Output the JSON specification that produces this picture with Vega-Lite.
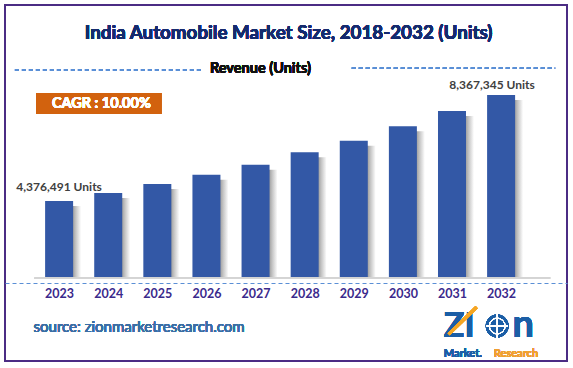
{
  "$schema": "https://vega.github.io/schema/vega-lite/v6.json",
  "width": 562,
  "height": 356,
  "autosize": "none",
  "padding": {"left": 5, "top": 5, "right": 6, "bottom": 7},
  "background": "white",
  "config": {
    "view": {"stroke": "#4B2C84", "strokeWidth": 2},
    "font": "Lato",
    "text": {"font": "Lato"}
  },
  "data": {
    "values": [
      {"year": 2023, "value": 4376491, "label": "4,376,491 Units"},
      {"year": 2024, "value": 4678000},
      {"year": 2025, "value": 5016000},
      {"year": 2026, "value": 5367000},
      {"year": 2027, "value": 5743000},
      {"year": 2028, "value": 6210000},
      {"year": 2029, "value": 6647000},
      {"year": 2030, "value": 7189000},
      {"year": 2031, "value": 7765000},
      {"year": 2032, "value": 8367345, "label": "8,367,345 Units"}
    ]
  },
  "layer": [
    {
      "mark": {"type": "bar", "size": 10, "xOffset": 17, "yOffset": 5,
        "color": {"gradient": "linear", "x1": 0, "x2": 1, "y1": 0, "y2": 0,
          "stops": [{"offset": 0, "color": "#8a8a8a"}, {"offset": 0.5, "color": "#c8c8c8"}, {"offset": 1, "color": "#ffffff"}]}},
      "encoding": {
        "x": {"field": "year", "type": "quantitative", "scale": {"domain": [2022, 2033.24], "nice": false, "zero": false},
          "axis": {"values": [2023, 2024, 2025, 2026, 2027, 2028, 2029, 2030, 2031, 2032], "format": "d", "title": null,
            "offset": -78, "grid": false, "ticks": false, "domainColor": "#5B8FD6", "domainDash": [4, 3], "domainWidth": 1.2,
            "labelColor": "#3B2A8C", "labelFont": "Lato", "labelFontWeight": "bold", "labelFontSize": 12.5, "labelPadding": 4}},
        "y": {"field": "value", "type": "quantitative", "scale": {"domain": [-1647000, 11756000], "nice": false, "zero": false}, "axis": null},
        "y2": {"datum": 1477000}
      }
    },
    {
      "mark": {"type": "bar", "size": 28, "color": "#3358A6"},
      "encoding": {
        "x": {"field": "year", "type": "quantitative", "scale": {"domain": [2022, 2033.24], "nice": false, "zero": false}},
        "y": {"field": "value", "type": "quantitative", "scale": {"domain": [-1647000, 11756000], "nice": false, "zero": false}, "axis": null},
        "y2": {"datum": 1477000}
      }
    },
    {
      "mark": {"type": "rule", "color": "#D4D4D4", "strokeWidth": 1},
      "encoding": {
        "x": {"datum": 2022.5, "type": "quantitative", "scale": {"domain": [2022, 2033.24], "nice": false, "zero": false}},
        "x2": {"datum": 2033.0},
        "y": {"datum": 1477000, "type": "quantitative", "scale": {"domain": [-1647000, 11756000], "nice": false, "zero": false}, "axis": null}
      }
    },
    {
      "transform": [{"filter": "datum.year == 2023"}],
      "mark": {"type": "text", "font": "Lato", "fontWeight": "bold", "fontSize": 12, "color": "#404040", "baseline": "middle", "dy": -14},
      "encoding": {
        "x": {"field": "year", "type": "quantitative", "scale": {"domain": [2022, 2033.24], "nice": false, "zero": false}},
        "y": {"field": "value", "type": "quantitative", "scale": {"domain": [-1647000, 11756000], "nice": false, "zero": false}, "axis": null},
        "text": {"field": "label"}
      }
    },
    {
      "transform": [{"filter": "datum.year == 2032"}],
      "mark": {"type": "text", "font": "Lato", "fontWeight": "bold", "fontSize": 12, "color": "#404040", "baseline": "middle", "dy": -10, "dx": -9},
      "encoding": {
        "x": {"field": "year", "type": "quantitative", "scale": {"domain": [2022, 2033.24], "nice": false, "zero": false}},
        "y": {"field": "value", "type": "quantitative", "scale": {"domain": [-1647000, 11756000], "nice": false, "zero": false}, "axis": null},
        "text": {"field": "label"}
      }
    },
    {
      "mark": {"type": "text", "font": "Lato", "fontWeight": "bold", "fontSize": 18.8, "color": "#152B6E", "baseline": "middle", "align": "center"},
      "encoding": {
        "x": {"datum": 2027.674, "type": "quantitative", "scale": {"domain": [2022, 2033.24], "nice": false, "zero": false}},
        "y": {"datum": 10690000, "type": "quantitative", "scale": {"domain": [-1647000, 11756000], "nice": false, "zero": false}, "axis": null},
        "text": {"value": "India Automobile Market Size, 2018-2032 (Units)"}
      }
    },
    {
      "mark": {"type": "rule", "color": "#5B8FD6", "strokeWidth": 1.2, "strokeDash": [4, 3]},
      "encoding": {
        "x": {"datum": 2022.1, "type": "quantitative", "scale": {"domain": [2022, 2033.24], "nice": false, "zero": false}},
        "x2": {"datum": 2025.94},
        "y": {"datum": 9308000, "type": "quantitative", "scale": {"domain": [-1647000, 11756000], "nice": false, "zero": false}, "axis": null}
      }
    },
    {
      "mark": {"type": "rule", "color": "#5B8FD6", "strokeWidth": 1.2, "strokeDash": [4, 3]},
      "encoding": {
        "x": {"datum": 2028.96, "type": "quantitative", "scale": {"domain": [2022, 2033.24], "nice": false, "zero": false}},
        "x2": {"datum": 2033.1},
        "y": {"datum": 9380000, "type": "quantitative", "scale": {"domain": [-1647000, 11756000], "nice": false, "zero": false}, "axis": null}
      }
    },
    {
      "mark": {"type": "text", "font": "Lato", "fontWeight": "bold", "fontSize": 14.5, "color": "#111111", "baseline": "middle", "align": "center"},
      "encoding": {
        "x": {"datum": 2027.1, "type": "quantitative", "scale": {"domain": [2022, 2033.24], "nice": false, "zero": false}},
        "y": {"datum": 9346000, "type": "quantitative", "scale": {"domain": [-1647000, 11756000], "nice": false, "zero": false}, "axis": null},
        "text": {"value": "Revenue (Units)"}
      }
    },
    {
      "mark": {"type": "rect", "color": "#D2620E"},
      "encoding": {
        "x": {"datum": 2022.54, "type": "quantitative", "scale": {"domain": [2022, 2033.24], "nice": false, "zero": false}},
        "x2": {"datum": 2025.08},
        "y": {"datum": 8442000, "type": "quantitative", "scale": {"domain": [-1647000, 11756000], "nice": false, "zero": false}, "axis": null},
        "y2": {"datum": 7652000}
      }
    },
    {
      "mark": {"type": "text", "font": "Lato", "fontWeight": "bold", "fontSize": 14.5, "color": "#FFFFFF", "baseline": "middle", "align": "center"},
      "encoding": {
        "x": {"datum": 2023.86, "type": "quantitative", "scale": {"domain": [2022, 2033.24], "nice": false, "zero": false}},
        "y": {"datum": 8047000, "type": "quantitative", "scale": {"domain": [-1647000, 11756000], "nice": false, "zero": false}, "axis": null},
        "text": {"value": "CAGR : 10.00%"}
      }
    },
    {
      "mark": {"type": "text", "font": "Lato", "fontWeight": "normal", "fontSize": 15, "color": "#3A6EA5", "baseline": "middle", "align": "left"},
      "encoding": {
        "x": {"datum": 2022.48, "type": "quantitative", "scale": {"domain": [2022, 2033.24], "nice": false, "zero": false}},
        "y": {"datum": -356000, "type": "quantitative", "scale": {"domain": [-1647000, 11756000], "nice": false, "zero": false}, "axis": null},
        "text": {"value": "source: zionmarketresearch.com"}
      }
    },
    {
      "mark": {"type": "text", "font": "Lato", "fontWeight": "bold", "fontSize": 34, "color": "#1B5EA6", "baseline": "alphabetic", "align": "left"},
      "encoding": {
        "x": {"datum": 2030.834, "type": "quantitative", "scale": {"domain": [2022, 2033.24], "nice": false, "zero": false}},
        "y": {"datum": -744000, "type": "quantitative", "scale": {"domain": [-1647000, 11756000], "nice": false, "zero": false}, "axis": null},
        "text": {"value": "ZI"}
      }
    },
    {
      "mark": {"type": "point", "shape": "circle", "filled": true, "color": "#1B5EA6", "opacity": 1, "size": 520},
      "encoding": {
        "x": {"datum": 2031.92, "type": "quantitative", "scale": {"domain": [2022, 2033.24], "nice": false, "zero": false}},
        "y": {"datum": -330000, "type": "quantitative", "scale": {"domain": [-1647000, 11756000], "nice": false, "zero": false}, "axis": null}
      }
    },
    {
      "mark": {"type": "point", "shape": "circle", "filled": false, "stroke": "#FFFFFF", "strokeWidth": 1, "opacity": 1, "size": 250},
      "encoding": {
        "x": {"datum": 2031.92, "type": "quantitative", "scale": {"domain": [2022, 2033.24], "nice": false, "zero": false}},
        "y": {"datum": -330000, "type": "quantitative", "scale": {"domain": [-1647000, 11756000], "nice": false, "zero": false}, "axis": null}
      }
    },
    {
      "mark": {"type": "rule", "color": "#FFFFFF", "strokeWidth": 1},
      "encoding": {
        "x": {"datum": 2031.92, "type": "quantitative", "scale": {"domain": [2022, 2033.24], "nice": false, "zero": false}},
        "y": {"datum": -790000, "type": "quantitative", "scale": {"domain": [-1647000, 11756000], "nice": false, "zero": false}, "axis": null},
        "y2": {"datum": 130000}
      }
    },
    {
      "mark": {"type": "rule", "color": "#FFFFFF", "strokeWidth": 1},
      "encoding": {
        "x": {"datum": 2031.7, "type": "quantitative", "scale": {"domain": [2022, 2033.24], "nice": false, "zero": false}},
        "x2": {"datum": 2032.14},
        "y": {"datum": -330000, "type": "quantitative", "scale": {"domain": [-1647000, 11756000], "nice": false, "zero": false}, "axis": null}
      }
    },
    {
      "mark": {"type": "text", "font": "Lato", "fontWeight": "bold", "fontSize": 38, "color": "#1B5EA6", "baseline": "alphabetic", "align": "left"},
      "encoding": {
        "x": {"datum": 2032.234, "type": "quantitative", "scale": {"domain": [2022, 2033.24], "nice": false, "zero": false}},
        "y": {"datum": -744000, "type": "quantitative", "scale": {"domain": [-1647000, 11756000], "nice": false, "zero": false}, "axis": null},
        "text": {"value": "n"}
      }
    },
    {
      "mark": {"type": "rule", "color": "#F5A623", "strokeWidth": 3},
      "encoding": {
        "x": {"datum": 2030.934, "type": "quantitative", "scale": {"domain": [2022, 2033.24], "nice": false, "zero": false}},
        "x2": {"datum": 2031.5},
        "y": {"datum": -640000, "type": "quantitative", "scale": {"domain": [-1647000, 11756000], "nice": false, "zero": false}, "axis": null},
        "y2": {"datum": 380000}
      }
    },
    {
      "mark": {"type": "text", "font": "Lato", "fontWeight": "bold", "fontSize": 11, "color": "#1B5EA6", "baseline": "middle", "align": "left"},
      "encoding": {
        "x": {"datum": 2030.834, "type": "quantitative", "scale": {"domain": [2022, 2033.24], "nice": false, "zero": false}},
        "y": {"datum": -1384000, "type": "quantitative", "scale": {"domain": [-1647000, 11756000], "nice": false, "zero": false}, "axis": null},
        "text": {"value": "Market."}
      }
    },
    {
      "mark": {"type": "text", "font": "Lato", "fontWeight": "bold", "fontSize": 11, "color": "#F0A030", "baseline": "middle", "align": "right"},
      "encoding": {
        "x": {"datum": 2032.754, "type": "quantitative", "scale": {"domain": [2022, 2033.24], "nice": false, "zero": false}},
        "y": {"datum": -1384000, "type": "quantitative", "scale": {"domain": [-1647000, 11756000], "nice": false, "zero": false}, "axis": null},
        "text": {"value": "Research"}
      }
    }
  ]
}
